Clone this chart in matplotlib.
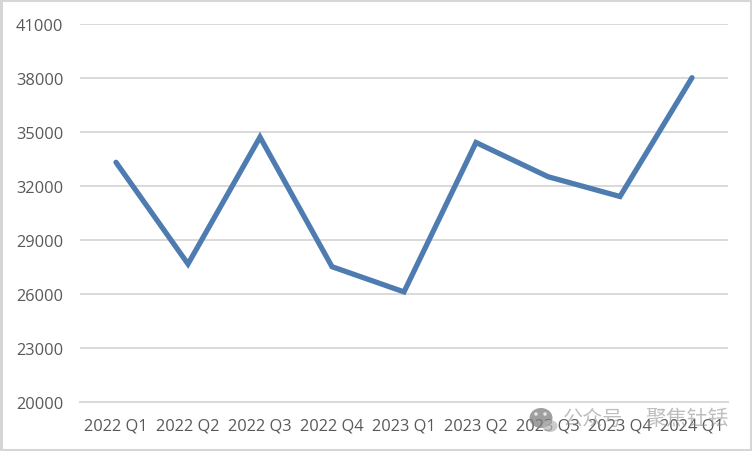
import matplotlib.pyplot as plt
from matplotlib.patches import Rectangle, Ellipse

plt.rcParams['font.family'] = ['Open Sans', 'Noto Sans CJK SC', 'DejaVu Sans']

quarters = ['2022 Q1', '2022 Q2', '2022 Q3', '2022 Q4', '2023 Q1', '2023 Q2', '2023 Q3', '2023 Q4', '2024 Q1']
values = [33300, 27650, 34700, 27500, 26100, 34400, 32500, 31400, 38000]
yticks = [20000, 23000, 26000, 29000, 32000, 35000, 38000, 41000]

W, H = 752, 452
fig = plt.figure(figsize=(W / 100, H / 100), dpi=100)
ax = fig.add_axes([80 / W, 1 - 402.7 / H, (728 - 80) / W, (402 - 24) / H])

ax.plot(range(len(values)), values, color='#4f7cb0', lw=3.8, solid_capstyle='round', solid_joinstyle='miter', zorder=3)

ax.set_xlim(-0.5, 8.5)
ax.set_ylim(20000, 41000)
ax.set_yticks(yticks)
ax.set_xticks(range(len(quarters)))
ax.set_xticklabels(quarters)
ax.tick_params(length=0, labelsize=11.8, labelcolor='#595959')
ax.tick_params(axis='x', pad=11.5)
ax.tick_params(axis='y', pad=12)
ax.grid(axis='y', color='#d9d9d9', lw=1.4)
ax.set_axisbelow(True)
for s in ['top', 'right', 'left']:
    ax.spines[s].set_visible(False)
ax.spines['bottom'].set_color('#d9d9d9')
ax.spines['bottom'].set_linewidth(1.4)

# chart frame
fig.add_artist(Rectangle((1 / W, 1 / H), (W - 2) / W, (H - 2) / H, transform=fig.transFigure,
                         fill=False, ec='#d6d6d6', lw=2.2))

# watermark icon, two bubbles with eyes
fig.add_artist(Ellipse((541 / W, 1 - 419 / H), 23 / W, 20 / H, transform=fig.transFigure,
                       fc='#7f7f7f', ec='none', alpha=0.75, zorder=5))
fig.add_artist(Ellipse((550 / W, 1 - 427 / H), 15 / W, 12 / H, transform=fig.transFigure,
                       fc='#b5b5b5', ec='none', alpha=0.7, zorder=5))
for ex in [536, 545]:
    fig.add_artist(Ellipse((ex / W, 1 - 415 / H), 3.5 / W, 3.5 / H, transform=fig.transFigure,
                           fc='#e8e8e8', ec='none', zorder=6))

# watermark text
fig.text(563 / W, 1 - 420 / H, '公众号', fontsize=14.5, color='#8a8a8a', alpha=0.55,
         va='center', ha='left', zorder=5)
fig.text(645 / W, 1 - 420 / H, '聚焦钍铥', fontsize=15, color='#8a8a8a', alpha=0.55,
         va='center', ha='left', zorder=5)

fig.savefig('out.png', dpi=100)
